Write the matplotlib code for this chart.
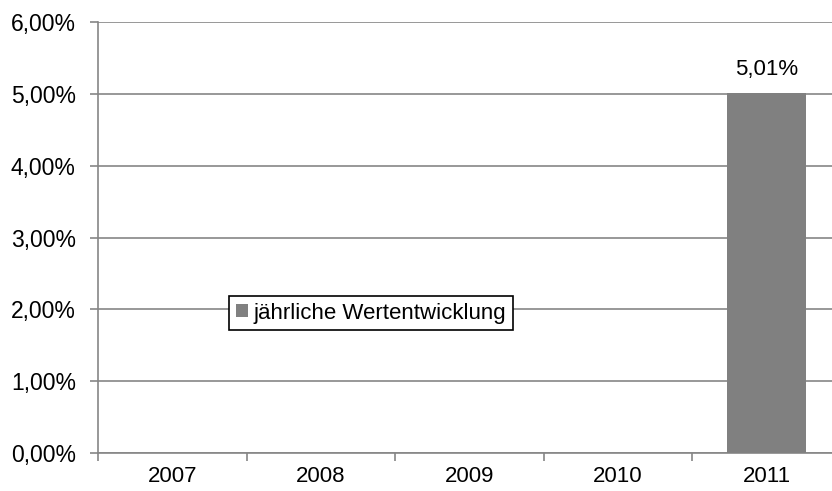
import numpy as np
import matplotlib
matplotlib.use("Agg")
import matplotlib.pyplot as plt

plt.rcParams['font.family'] = ['Liberation Sans', 'DejaVu Sans']

years = ["2007", "2008", "2009", "2010", "2011"]
values = [0.0, 0.0, 0.0, 0.0, 5.01]
yticks = [0, 1, 2, 3, 4, 5, 6]
series_name = "jährliche Wertentwicklung"

fs = 16
fig = plt.figure(figsize=(8.32, 4.91), dpi=100)
W, H = 832, 491
left, right, top, bottom = 98, 841, 22, 453
ax = fig.add_axes([left / W, 1 - bottom / H, (right - left) / W, (bottom - top) / H])

x = np.arange(len(years))
bars = ax.bar(x, values, width=0.53, color="#808080", label=series_name, zorder=3)
ax.set_xlim(-0.5, len(years) - 0.5)
ax.set_ylim(0, 6)

grid_c = "#868686"
ax.set_yticks(yticks)
ax.set_yticklabels([f"{v:.2f}%".replace(".", ",") for v in yticks], fontsize=16.5)
ax.yaxis.grid(True, color=grid_c, linewidth=1.2, zorder=0)
ax.set_xticks(x)
ax.set_xticklabels(years, fontsize=fs)
ax.set_xticks(np.arange(-0.5, len(years)), minor=True)
ax.tick_params(axis="x", which="major", length=0, pad=9)
ax.tick_params(axis="x", which="minor", length=6, color=grid_c, width=1.2)
ax.tick_params(axis="y", length=6, color=grid_c, width=1.2, pad=10)

for s in ["top", "right"]:
    ax.spines[s].set_visible(False)
ax.spines["left"].set_color(grid_c)
ax.spines["left"].set_linewidth(1.2)
ax.spines["bottom"].set_color(grid_c)
ax.spines["bottom"].set_linewidth(1.2)

for b, v in zip(bars, values):
    if v > 0:
        ax.text(b.get_x() + b.get_width() / 2, v + 0.18, f"{v:.2f}%".replace(".", ","),
                ha="center", va="bottom", fontsize=fs)

leg = ax.legend(loc="center", bbox_to_anchor=(371 / W, 1 - 313 / H), bbox_transform=fig.transFigure,
                fontsize=fs, frameon=True, fancybox=False, handlelength=0.55, handleheight=0.55,
                handletextpad=0.25, borderpad=0.3, borderaxespad=0)
leg.get_frame().set_edgecolor("black")
leg.get_frame().set_linewidth(1.2)
leg.get_frame().set_alpha(1)

fig.savefig("out.png", dpi=100)
